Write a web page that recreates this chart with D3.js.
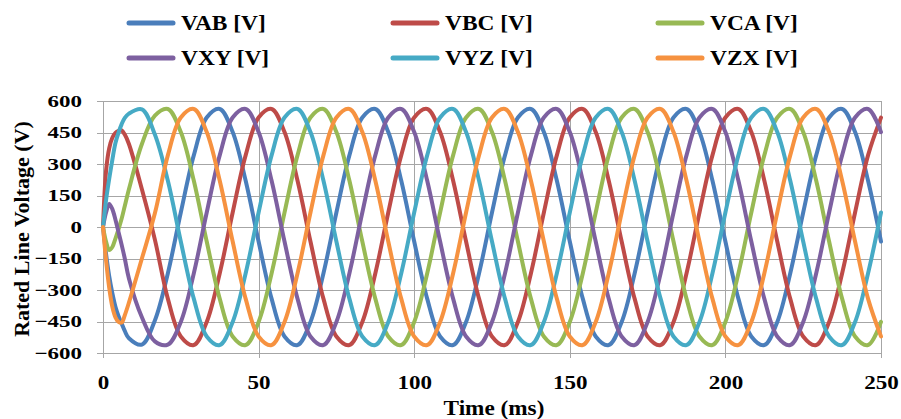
<!DOCTYPE html>
<html>
<head>
<meta charset="utf-8">
<script src="https://cdn.jsdelivr.net/npm/d3@7/dist/d3.min.js"></script>
<style>
  body { margin: 0; background: #fff; }
  svg text { font-family: "Liberation Serif", "Times New Roman", serif; font-weight: bold; fill: #000; }
  .grid line { stroke: #a6a6a6; stroke-width: 1; shape-rendering: crispEdges; }
  .axis path, .axis line { stroke: #a6a6a6; shape-rendering: crispEdges; }
  .series { fill: none; stroke-width: 4; stroke-linejoin: round; stroke-linecap: round; }
</style>
</head>
<body>
<svg id="chart" width="901" height="419"></svg>
<script>
// time samples (ms)
var times = [0, 1, 2, 3, 4, 5, 6, 7,
  8.33, 12.5, 16.67, 20.83, 25, 29.17, 33.33, 37.5, 41.67, 45.83,
  50, 54.17, 58.33, 62.5, 66.67, 70.83, 75, 79.17, 83.33, 87.5, 91.67, 95.83,
  100, 104.17, 108.33, 112.5, 116.67, 120.83, 125, 129.17, 133.33, 137.5, 141.67, 145.83,
  150, 154.17, 158.33, 162.5, 166.67, 170.83, 175, 179.17, 183.33, 187.5, 191.67, 195.83,
  200, 204.17, 208.33, 212.5, 216.67, 220.83, 225, 229.17, 233.33, 237.5, 241.67, 245.83,
  250];

var seriesNames = ["VAB [V]", "VBC [V]", "VCA [V]", "VXY [V]", "VYZ [V]", "VZX [V]"];
var seriesColors = ["#4a7ebb", "#be4b48", "#98b954", "#7d60a0", "#46aac5", "#f69240"];

var vab = [0, -130, -235, -315, -380, -425, -460, -495,
  -530, -560, -445, -221, 69, 341, 521, 562, 452, 221,
  -69, -341, -521, -562, -452, -221, 69, 341, 521, 562, 452, 221,
  -69, -341, -521, -562, -452, -221, 69, 341, 521, 562, 452, 221,
  -69, -341, -521, -562, -452, -221, 69, 341, 521, 562, 452, 221,
  -69, -341, -521, -562, -452, -221, 69, 341, 521, 562, 452, 221,
  -69];
var vbc = [0, 270, 375, 425, 448, 458, 460, 440,
  395, 180, -60, -341, -521, -562, -452, -221, 69, 341,
  521, 562, 452, 221, -69, -341, -521, -562, -452, -221, 69, 341,
  521, 562, 452, 221, -69, -341, -521, -562, -452, -221, 69, 341,
  521, 562, 452, 221, -69, -341, -521, -562, -452, -221, 69, 341,
  521, 562, 452, 221, -69, -341, -521, -562, -452, -221, 69, 341,
  521];
var vca = [0, -70, -110, -95, -55, -10, 40, 100,
  180, 395, 530, 562, 452, 221, -69, -341, -521, -562,
  -452, -221, 69, 341, 521, 562, 452, 221, -69, -341, -521, -562,
  -452, -221, 69, 341, 521, 562, 452, 221, -69, -341, -521, -562,
  -452, -221, 69, 341, 521, 562, 452, 221, -69, -341, -521, -562,
  -452, -221, 69, 341, 521, 562, 452, 221, -69, -341, -521, -562,
  -452];
var vxy = [0, 70, 110, 85, 35, -25, -85, -150,
  -245, -430, -545, -560, -452, -221, 69, 341, 521, 562,
  452, 221, -69, -341, -521, -562, -452, -221, 69, 341, 521, 562,
  452, 221, -69, -341, -521, -562, -452, -221, 69, 341, 521, 562,
  452, 221, -69, -341, -521, -562, -452, -221, 69, 341, 521, 562,
  452, 221, -69, -341, -521, -562, -452, -221, 69, 341, 521, 562,
  452];
var vyz = [0, 130, 230, 320, 400, 450, 490, 520,
  540, 560, 440, 221, -69, -341, -521, -562, -452, -221,
  69, 341, 521, 562, 452, 221, -69, -341, -521, -562, -452, -221,
  69, 341, 521, 562, 452, 221, -69, -341, -521, -562, -452, -221,
  69, 341, 521, 562, 452, 221, -69, -341, -521, -562, -452, -221,
  69, 341, 521, 562, 452, 221, -69, -341, -521, -562, -452, -221,
  69];
var vzx = [0, -160, -290, -380, -430, -452, -455, -420,
  -360, -150, 65, 341, 521, 562, 452, 221, -69, -341,
  -521, -562, -452, -221, 69, 341, 521, 562, 452, 221, -69, -341,
  -521, -562, -452, -221, 69, 341, 521, 562, 452, 221, -69, -341,
  -521, -562, -452, -221, 69, 341, 521, 562, 452, 221, -69, -341,
  -521, -562, -452, -221, 69, 341, 521, 562, 452, 221, -69, -341,
  -521];

var xTicks = [0, 50, 100, 150, 200, 250];
var yTicks = [-600, -450, -300, -150, 0, 150, 300, 450, 600];

var seriesValues = [vab, vbc, vca, vxy, vyz, vzx];

var svg = d3.select("#chart");

var x = d3.scaleLinear().domain([0, 250]).range([103, 881]);
var y = d3.scaleLinear().domain([-600, 600]).range([353, 101]);

// stretch text horizontally to match the wide look of the original
function stretch(sel, f) {
  sel.each(function () {
    var w = this.getComputedTextLength();
    d3.select(this).attr("textLength", w * f).attr("lengthAdjust", "spacingAndGlyphs");
  });
}

// grid
var grid = svg.append("g").attr("class", "grid");
grid.selectAll(".h").data(yTicks).enter().append("line")
  .attr("x1", x(0)).attr("x2", x(250))
  .attr("y1", function (d) { return Math.round(y(d)) + 0.5; })
  .attr("y2", function (d) { return Math.round(y(d)) + 0.5; });
grid.selectAll(".v").data(xTicks).enter().append("line")
  .attr("y1", y(600)).attr("y2", y(-600))
  .attr("x1", function (d) { return Math.round(x(d)) + 0.5; })
  .attr("x2", function (d) { return Math.round(x(d)) + 0.5; });

// axes
var yAxis = d3.axisLeft(y).tickValues(yTicks).tickSize(6).tickPadding(8).tickFormat(d3.format("d"));
var gy = svg.append("g").attr("class", "axis").attr("transform", "translate(" + x(0) + ",0)").call(yAxis);
gy.selectAll("text").style("font-size", "17px").attr("x", -21);

var xAxis = d3.axisBottom(x).tickValues(xTicks).tickSize(5).tickPadding(8);
var gx = svg.append("g").attr("class", "axis").attr("transform", "translate(0," + y(-600) + ")").call(xAxis);
gx.selectAll("text").style("font-size", "18px").attr("y", 23);
gy.selectAll(".domain, .tick line").attr("stroke", "#a6a6a6");
gx.selectAll(".domain, .tick line").attr("stroke", "#a6a6a6");
gy.selectAll("text").attr("fill", "#000").call(stretch, 1.35);
gx.selectAll("text").attr("fill", "#000").call(stretch, 1.28);

// series
var line = d3.line()
  .x(function (d) { return x(d[0]); })
  .y(function (d) { return y(d[1]); })
  .curve(d3.curveCatmullRom.alpha(0.5));

seriesValues.forEach(function (vals, i) {
  var pts = times.map(function (t, k) { return [t, vals[k]]; });
  svg.append("path")
    .attr("class", "series")
    .attr("stroke", seriesColors[i])
    .attr("d", line(pts));
});

// axis titles
svg.append("text")
  .attr("transform", "translate(29,229) rotate(-90)")
  .attr("text-anchor", "middle")
  .style("font-size", "22px")
  .text("Rated Line Voltage (V)");

svg.append("text")
  .attr("x", 494).attr("y", 415)
  .attr("text-anchor", "middle")
  .style("font-size", "20px")
  .text("Time (ms)")
  .call(stretch, 1.16);

// legend
var legX = [127, 391, 656];
var legY = [23, 58];
var leg = svg.append("g");
seriesNames.forEach(function (name, i) {
  var lx = legX[i % 3], ly = legY[Math.floor(i / 3)];
  leg.append("line")
    .attr("x1", lx + 2).attr("x2", lx + 46)
    .attr("y1", ly).attr("y2", ly)
    .attr("stroke", seriesColors[i]).attr("stroke-width", 5)
    .attr("stroke-linecap", "round");
  leg.append("text")
    .attr("x", lx + 54).attr("y", ly + 7)
    .style("font-size", "20px")
    .text(name)
    .call(stretch, 1.17);
});
</script>
</body>
</html>
